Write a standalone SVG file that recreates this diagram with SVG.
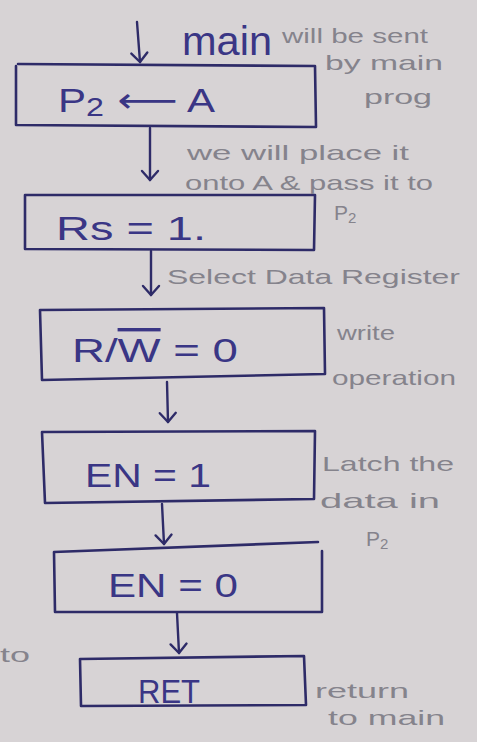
<svg xmlns="http://www.w3.org/2000/svg" width="477" height="742" viewBox="0 0 477 742">
<defs>
<style>
.bg{fill:#d7d3d5}
.box{fill:none;stroke:#2e2b68;stroke-width:2.6;stroke-linejoin:round;stroke-linecap:round}
.conn{fill:none;stroke:#2e2b68;stroke-width:2.4;stroke-linecap:round}
.t{font-family:"Liberation Sans",Arial,sans-serif;fill:#3a3685;font-size:34px}
.n{font-family:"Liberation Sans",Arial,sans-serif;fill:#85838c;font-size:21px}
</style>
<marker id="ah" viewBox="0 0 20 20" refX="18" refY="10" markerWidth="20" markerHeight="20" markerUnits="userSpaceOnUse" orient="auto">
<path d="M9,2 L18,10 L9,18" fill="none" stroke="#2e2b68" stroke-width="2.4" stroke-linecap="round" stroke-linejoin="round"/>
</marker>
</defs>
<rect class="bg" x="0" y="0" width="477" height="742"/>

<g id="connectors">
<path class="conn" d="M137,22 L140,62" marker-end="url(#ah)"/>
<path class="conn" d="M150,128 L150,180" marker-end="url(#ah)"/>
<path class="conn" d="M151,251 L151,295" marker-end="url(#ah)"/>
<path class="conn" d="M167,382 L168,422" marker-end="url(#ah)"/>
<path class="conn" d="M162,504 L164,544" marker-end="url(#ah)"/>
<path class="conn" d="M177,613 L179,653" marker-end="url(#ah)"/>
</g>

<g id="node-p2">
<path class="box" d="M18,64 L315,66 L316,127 L16,125 L16,66"/>
<text class="t" x="58" y="112" textLength="157" lengthAdjust="spacingAndGlyphs">P<tspan font-size="26" dy="4">2</tspan><tspan dy="-4" font-family="DejaVu Sans"> ⟵</tspan><tspan> A</tspan></text>
</g>

<g id="node-rs">
<path class="box" d="M25,195 L315,195 L314,250 L25,249 Z"/>
<text class="t" x="56" y="240" textLength="150" lengthAdjust="spacingAndGlyphs">Rs = 1.</text>
</g>

<g id="node-rw">
<path class="box" d="M40,310 L324,308 L325,374 L42,380 Z"/>
<text class="t" x="72" y="362" textLength="166" lengthAdjust="spacingAndGlyphs">R/<tspan text-decoration="overline">W</tspan> = 0</text>
</g>

<g id="node-en1">
<path class="box" d="M42,432 L315,431 L314,499 L45,503 Z"/>
<text class="t" x="85" y="487" textLength="126" lengthAdjust="spacingAndGlyphs">EN = 1</text>
</g>

<g id="node-en0">
<path class="box" d="M55,612 L54,552 L318,542 M322,551 L322,612 L55,612"/>
<text class="t" x="108" y="597" textLength="130" lengthAdjust="spacingAndGlyphs">EN = 0</text>
</g>

<g id="node-ret">
<path class="box" d="M80,659 L304,656 L306,705 L81,706 Z"/>
<text class="t" x="138" y="703" textLength="62" lengthAdjust="spacingAndGlyphs">RET</text>
</g>

<g id="notes">
<text class="t" x="182" y="55" style="font-size:40px" textLength="90" lengthAdjust="spacingAndGlyphs">main</text>
<text class="n" x="282" y="43" textLength="146" lengthAdjust="spacingAndGlyphs">will be sent</text>
<text class="n" x="325" y="70" textLength="118" lengthAdjust="spacingAndGlyphs">by main</text>
<text class="n" x="364" y="104" textLength="68" lengthAdjust="spacingAndGlyphs">prog</text>
<text class="n" x="187" y="160" textLength="222" lengthAdjust="spacingAndGlyphs">we will place it</text>
<text class="n" x="185" y="190" textLength="248" lengthAdjust="spacingAndGlyphs">onto A &amp; pass it to</text>
<text class="n" x="334" y="220">P<tspan font-size="15" dy="3">2</tspan></text>
<text class="n" x="167" y="284" textLength="293" lengthAdjust="spacingAndGlyphs">Select Data Register</text>
<text class="n" x="337" y="340" textLength="58" lengthAdjust="spacingAndGlyphs">write</text>
<text class="n" x="332" y="385" textLength="124" lengthAdjust="spacingAndGlyphs">operation</text>
<text class="n" x="322" y="471" textLength="132" lengthAdjust="spacingAndGlyphs">Latch the</text>
<text class="n" x="320" y="508" textLength="120" lengthAdjust="spacingAndGlyphs">data in</text>
<text class="n" x="366" y="546">P<tspan font-size="15" dy="3">2</tspan></text>
<text class="n" x="0" y="662" textLength="30" lengthAdjust="spacingAndGlyphs">to</text>
<text class="n" x="315" y="698" textLength="94" lengthAdjust="spacingAndGlyphs">return</text>
<text class="n" x="328" y="725" textLength="117" lengthAdjust="spacingAndGlyphs">to main</text>
</g>
</svg>
